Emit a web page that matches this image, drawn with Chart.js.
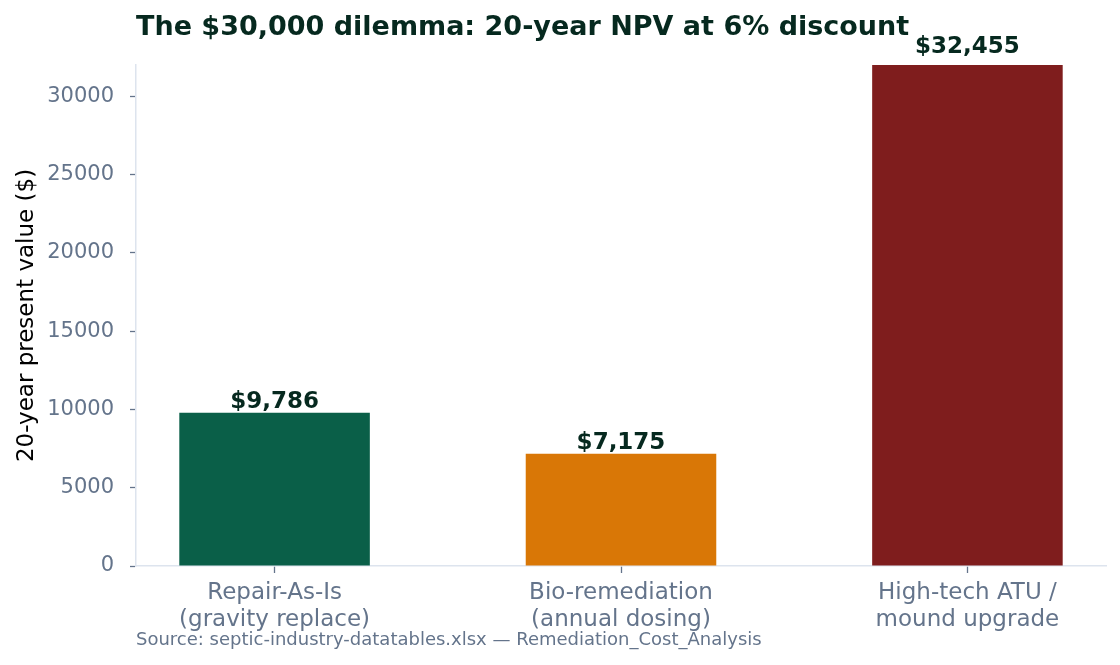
<!DOCTYPE html>
<html lang="en">
<head>
  <meta charset="UTF-8">
  <title>20-year NPV comparison</title>
  <script src="https://cdn.jsdelivr.net/npm/chart.js"></script>
  <style>
    body {
      margin: 0;
      background: #ffffff;
    }
    #wrap {
      width: 1120px;
      height: 665px;
    }
  </style>
</head>
<body>
  <div id="wrap">
    <canvas id="npvChart" width="1120" height="665"></canvas>
  </div>

  <script>
    const categories = [
      ['Repair-As-Is', '(gravity replace)'],
      ['Bio-remediation', '(annual dosing)'],
      ['High-tech ATU /', 'mound upgrade']
    ];
    const npvValues = [9786, 7175, 32455];
    const barColors = ['#0a5f48', '#d97706', '#7f1d1d'];
    const yTicks = [0, 5000, 10000, 15000, 20000, 25000, 30000];

    const titleText = 'The $30,000 dilemma: 20-year NPV at 6% discount';
    const sourceText = 'Source: septic-industry-datatables.xlsx \u2014 Remediation_Cost_Analysis';

    const FONT = "'DejaVu Sans', sans-serif";
    const slate = '#64748b';
    const axisLine = '#dde4ee';

    // value labels above bars + title/source text
    const labelPlugin = {
      id: 'labels',
      afterDatasetsDraw(chart) {
        const ctx = chart.ctx;
        const meta = chart.getDatasetMeta(0);
        const yScale = chart.scales.y;
        ctx.save();
        ctx.font = 'bold 23px ' + FONT;
        ctx.fillStyle = '#06291f';
        ctx.textAlign = 'center';
        ctx.textBaseline = 'alphabetic';
        meta.data.forEach((bar, i) => {
          const y = yScale.getPixelForValue(npvValues[i]) - 5;
          ctx.fillText('$' + npvValues[i].toLocaleString('en-US'), bar.x, y);
        });
        ctx.restore();
      },
      afterDraw(chart) {
        const ctx = chart.ctx;
        const left = chart.chartArea.left;
        ctx.save();
        ctx.textAlign = 'left';
        ctx.textBaseline = 'alphabetic';
        ctx.fillStyle = '#06291f';
        ctx.font = 'bold 27px ' + FONT;
        ctx.fillText(titleText, left, 35);
        ctx.fillStyle = slate;
        ctx.font = '18px ' + FONT;
        ctx.fillText(sourceText, left, 645);
        ctx.restore();
      }
    };

    const ctx = document.getElementById('npvChart').getContext('2d');
    new Chart(ctx, {
      type: 'bar',
      data: {
        datasets: [{
          data: npvValues.map((v, i) => ({ x: i, y: v })),
          backgroundColor: barColors,
          barPercentage: 0.55,
          categoryPercentage: 1.0
        }]
      },
      options: {
        responsive: false,
        animation: false,
        layout: {
          padding: { left: 0, right: 14, top: 65, bottom: 0 }
        },
        plugins: {
          legend: { display: false },
          tooltip: { enabled: false }
        },
        scales: {
          x: {
            type: 'linear',
            min: -0.4,
            max: 2.4,
            offset: false,
            afterBuildTicks(scale) {
              scale.ticks = categories.map((c, i) => ({ value: i }));
            },
            afterFit(scale) {
              scale.height = 99;
            },
            grid: {
              offset: false,
              drawOnChartArea: false,
              color: slate,
              tickLength: 7,
              tickWidth: 1.3
            },
            border: { color: axisLine, width: 1.5 },
            ticks: {
              color: slate,
              font: { family: FONT, size: 23, lineHeight: 1.17 },
              padding: 7,
              maxRotation: 0,
              autoSkip: false,
              callback: (value) => categories[value]
            }
          },
          y: {
            min: 0,
            max: 32000,
            afterBuildTicks(scale) {
              scale.ticks = yTicks.map(v => ({ value: v }));
            },
            afterFit(scale) {
              scale.width = 136;
            },
            grid: {
              drawOnChartArea: false,
              color: slate,
              tickLength: 6,
              tickWidth: 1.3
            },
            border: { color: axisLine, width: 1.5 },
            ticks: {
              color: slate,
              font: { family: FONT, size: 21 },
              padding: 16,
              callback: (value) => String(value)
            },
            title: {
              display: true,
              text: '20-year present value ($)',
              color: '#000000',
              font: { family: FONT, size: 23 },
              padding: { top: 13, bottom: 0 }
            }
          }
        }
      },
      plugins: [labelPlugin]
    });
  </script>
</body>
</html>
